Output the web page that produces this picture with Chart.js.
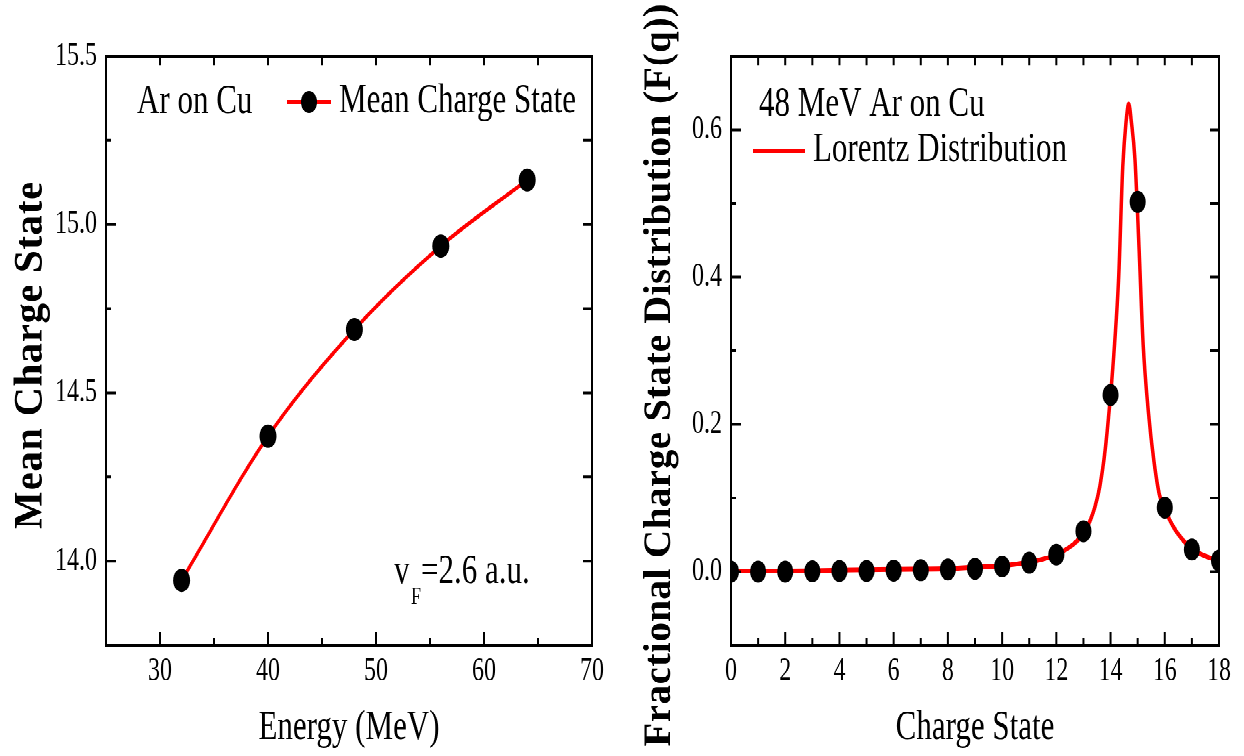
<!DOCTYPE html>
<html>
<head>
<meta charset="utf-8">
<title>Mean charge state / charge state distribution</title>
<script src="https://cdn.jsdelivr.net/npm/chart.js@4.4.1/dist/chart.umd.min.js"></script>
<style>
  html, body { margin: 0; padding: 0; background: #fff; overflow: hidden; }
  #wrap { position: absolute; left: 0; top: 0; width: 1244px; height: 552px; transform: scaleY(1.37); transform-origin: 0 0; }
  .panel { position: absolute; top: 0; height: 552px; }
</style>
</head>
<body>
<div id="wrap">
  <div class="panel" style="left:0;width:620px"><canvas id="leftChart"></canvas></div>
  <div class="panel" style="left:620px;width:624px"><canvas id="rightChart"></canvas></div>
</div>

<script>
// left panel: mean charge state vs energy
var energy = [32, 40, 48, 56, 64];
var meanCharge = [13.943, 14.371, 14.688, 14.936, 15.132];
var energyTicks = [30, 40, 50, 60, 70];
var energyMinor = [35, 45, 55, 65];
var meanTicks = [14.0, 14.5, 15.0, 15.5];
var meanMinor = [14.25, 14.75, 15.25];

// right panel: 48 MeV Ar on Cu, charge state distribution
var chargeState = [0, 1, 2, 3, 4, 5, 6, 7, 8, 9, 10, 11, 12, 13, 14, 15, 16, 17, 18];
var fraction = [0.0, 0.0, 0.0, 0.0005, 0.001, 0.001, 0.0015, 0.002, 0.003, 0.004, 0.007, 0.012, 0.023, 0.055, 0.240, 0.502, 0.087, 0.030, 0.015];
// lorentz fit curve
var lorentzQ = [0, 2, 4, 6, 8, 9, 10, 10.5, 11, 11.5, 12, 12.4, 12.8, 13.1, 13.4, 13.6, 13.8, 14.0, 14.15, 14.3, 14.45, 14.57, 14.67, 14.77, 14.9, 15.05, 15.2, 15.4, 15.6, 15.8, 16.0, 16.3, 16.6, 17.0, 17.5, 18];
var lorentzF = [0.001, 0.001, 0.002, 0.003, 0.004, 0.006, 0.008, 0.010, 0.013, 0.017, 0.023, 0.031, 0.043, 0.058, 0.085, 0.115, 0.165, 0.240, 0.310, 0.400, 0.550, 0.610, 0.635, 0.610, 0.560, 0.440, 0.310, 0.215, 0.150, 0.105, 0.085, 0.062, 0.046, 0.031, 0.021, 0.015];
var qTicks = [0, 2, 4, 6, 8, 10, 12, 14, 16, 18];
var qMinor = [1, 3, 5, 7, 9, 11, 13, 15, 17];
var fTicks = [0.0, 0.2, 0.4, 0.6];
var fMinor = [0.1, 0.3, 0.5];

var S = 1.37; // vertical stretch of the whole figure
var SERIF = "'Liberation Serif', 'Times New Roman', serif";

Chart.defaults.font.family = SERIF;
Chart.defaults.color = '#000';

function frame(xMajor, xMinor, yMajor, yMinor, extra) {
  return {
    id: 'frame',
    afterDatasetsDraw: function(chart) {
      var ctx = chart.ctx, a = chart.chartArea, sx = chart.scales.x, sy = chart.scales.y;
      ctx.save();
      ctx.strokeStyle = '#000';
      ctx.lineWidth = 2;
      ctx.strokeRect(a.left, a.top, a.right - a.left, a.bottom - a.top);
      ctx.beginPath();
      function xt(vals, len, lenTop) {
        vals.forEach(function(v) {
          var p = sx.getPixelForValue(v);
          ctx.moveTo(p, a.bottom); ctx.lineTo(p, a.bottom - len / S);
          ctx.moveTo(p, a.top); ctx.lineTo(p, a.top + lenTop / S);
        });
      }
      function yt(vals, len, lenRight) {
        vals.forEach(function(v) {
          var p = sy.getPixelForValue(v);
          ctx.moveTo(a.left, p); ctx.lineTo(a.left + len, p);
          ctx.moveTo(a.right, p); ctx.lineTo(a.right - lenRight, p);
        });
      }
      xt(xMajor, 13, 9); xt(xMinor, 7, 9);
      yt(yMajor, 10, 9); yt(yMinor, 5, 9);
      ctx.stroke();
      ctx.restore();
      extra(chart.ctx);
    }
  };
}

function label(ctx, str, x, yRef, size) {
  ctx.save();
  ctx.font = size + 'px ' + SERIF;
  ctx.fillStyle = '#000';
  ctx.textAlign = 'left';
  ctx.textBaseline = 'alphabetic';
  ctx.fillText(str, x, yRef / S);
  ctx.restore();
}

// rotated y title, drawn without the vertical stretch
function sideTitle(ctx, str, x, yRef, size, spacing) {
  ctx.save();
  ctx.translate(x, yRef / S);
  ctx.scale(1, 1 / S);
  ctx.rotate(-Math.PI / 2);
  ctx.font = 'bold ' + size + 'px ' + SERIF;
  ctx.letterSpacing = spacing;
  ctx.fillStyle = '#000';
  ctx.textAlign = 'center';
  ctx.textBaseline = 'middle';
  ctx.fillText(str, 0, 0);
  ctx.restore();
}

function legendLine(ctx, x1, x2, yRef, w) {
  ctx.save();
  ctx.strokeStyle = '#ff0000';
  ctx.lineWidth = w;
  ctx.beginPath();
  ctx.moveTo(x1, yRef / S); ctx.lineTo(x2, yRef / S);
  ctx.stroke();
  ctx.restore();
}

function xAxis(min, max, ticks, title) {
  return {
    type: 'linear', min: min, max: max,
    afterBuildTicks: function(s) { s.ticks = ticks.map(function(v) { return { value: v }; }); },
    afterFit: function(s) { s.height = 81; },
    grid: { display: false, drawTicks: false },
    border: { display: false },
    ticks: { font: { size: 24 }, color: '#000', padding: 5, maxRotation: 0, autoSkip: false,
             callback: function(v) { return String(v); } },
    title: { display: true, text: title, font: { size: 31 }, color: '#000', padding: { top: 0, bottom: 2 } }
  };
}

function yAxis(min, max, ticks, w) {
  return {
    type: 'linear', min: min, max: max,
    afterBuildTicks: function(s) { s.ticks = ticks.map(function(v) { return { value: v }; }); },
    afterFit: function(s) { s.width = w; },
    grid: { display: false, drawTicks: false },
    border: { display: false },
    ticks: { font: { size: 24 }, color: '#000', padding: 9, autoSkip: false,
             callback: function(v) { return v.toFixed(1); } }
  };
}

new Chart(document.getElementById('leftChart'), {
  type: 'line',
  data: {
    datasets: [{
      data: energy.map(function(e, i) { return { x: e, y: meanCharge[i] }; }),
      borderColor: '#ff0000',
      borderWidth: 3,
      cubicInterpolationMode: 'monotone',
      pointRadius: 8.5,
      pointBackgroundColor: '#000',
      pointBorderColor: '#000',
      pointBorderWidth: 0
    }]
  },
  options: {
    responsive: true, maintainAspectRatio: false, animation: false, devicePixelRatio: 2,
    layout: { padding: { top: 41, right: 28, left: 0, bottom: 0 } },
    plugins: { legend: { display: false }, tooltip: { enabled: false } },
    scales: {
      x: xAxis(25, 70, energyTicks, 'Energy (MeV)'),
      y: yAxis(13.75, 15.5, meanTicks, 106)
    }
  },
  plugins: [frame(energyTicks, energyMinor, meanTicks, meanMinor, function(ctx) {
    label(ctx, 'Ar on Cu', 137, 113, 31);
    legendLine(ctx, 287, 331, 102, 3);
    ctx.save();
    ctx.fillStyle = '#000';
    ctx.beginPath();
    ctx.arc(309, 102 / S, 8, 0, Math.PI * 2);
    ctx.fill();
    ctx.restore();
    label(ctx, 'Mean Charge State', 339, 112, 31);
    label(ctx, 'v', 394, 583, 31);
    label(ctx, 'F', 411, 604, 18);
    label(ctx, '=2.6 a.u.', 421, 583, 31);
    sideTitle(ctx, 'Mean Charge State', 31, 355, 40, '1px');
  })]
});

new Chart(document.getElementById('rightChart'), {
  type: 'line',
  data: {
    datasets: [{
      data: chargeState.map(function(q, i) { return { x: q, y: fraction[i] }; }),
      showLine: false,
      pointRadius: 8,
      pointBackgroundColor: '#000',
      pointBorderColor: '#000',
      pointBorderWidth: 0
    }, {
      data: lorentzQ.map(function(q, i) { return { x: q, y: lorentzF[i] }; }),
      borderColor: '#ff0000',
      borderWidth: 3.5,
      cubicInterpolationMode: 'monotone',
      pointRadius: 0
    }]
  },
  options: {
    responsive: true, maintainAspectRatio: false, animation: false, devicePixelRatio: 2,
    layout: { padding: { top: 41, right: 25, left: 0, bottom: 0 } },
    plugins: { legend: { display: false }, tooltip: { enabled: false } },
    scales: {
      x: xAxis(0, 18, qTicks, 'Charge State'),
      y: yAxis(-0.1, 0.7, fTicks, 111)
    }
  },
  plugins: [frame(qTicks, qMinor, fTicks, fMinor, function(ctx) {
    label(ctx, '48 MeV Ar on Cu', 139, 116, 31);
    legendLine(ctx, 133, 185, 151, 3.5);
    label(ctx, 'Lorentz Distribution', 193, 161, 31);
    sideTitle(ctx, 'Fractional Charge State Distribution (F(q))', 40, 375, 39, '0.5px');
  })]
});
</script>
</body>
</html>
